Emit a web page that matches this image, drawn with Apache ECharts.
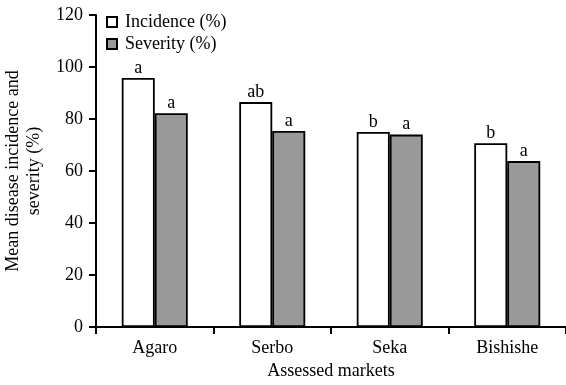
<!DOCTYPE html>
<html>
<head>
<meta charset="utf-8">
<script src="https://cdn.jsdelivr.net/npm/echarts@6/dist/echarts.min.js"></script>
<style>
html,body{margin:0;padding:0;background:#fff;}
#chart{width:566px;height:385px;}
</style>
</head>
<body>
<div id="chart"></div>
<script>
// Markets and mean disease values (%)
const markets = ['Agaro', 'Serbo', 'Seka', 'Bishishe'];
const incidence = [95.8, 86.5, 75.0, 70.7];
const severity = [82.2, 75.4, 74.0, 63.8];
// Mean separation letters shown above each bar
const incidenceLetters = ['a', 'ab', 'b', 'b'];
const severityLetters = ['a', 'a', 'a', 'a'];
const yTicks = [0, 20, 40, 60, 80, 100, 120];

const FONT = '"Liberation Serif", "Times New Roman", serif';
const chart = echarts.init(document.getElementById('chart'), null, {renderer: 'canvas'});

function letterLabel(letters) {
  return {
    show: true,
    position: 'top',
    distance: 1,
    fontFamily: FONT,
    fontSize: 18,
    color: '#000',
    formatter: p => letters[p.dataIndex]
  };
}

chart.setOption({
  animation: false,
  backgroundColor: '#fff',
  textStyle: {fontFamily: FONT, color: '#000'},
  grid: {left: 96, right: 0, top: 15, bottom: 58, containLabel: false, outerBoundsMode: 'none'},
  legend: {
    orient: 'vertical',
    left: 101,
    top: 8,
    itemWidth: 10,
    itemHeight: 10,
    itemGap: 4,
    icon: 'rect',
    textStyle: {fontFamily: FONT, fontSize: 18, color: '#000', padding: [0, 0, 0, 3]},
    data: ['Incidence (%)', 'Severity (%)']
  },
  xAxis: {
    type: 'category',
    data: markets,
    name: 'Assessed markets',
    nameLocation: 'middle',
    nameGap: 34,
    nameTextStyle: {fontFamily: FONT, fontSize: 18, color: '#000'},
    axisLine: {lineStyle: {color: '#000', width: 2}},
    axisTick: {show: true, inside: false, length: 7, alignWithLabel: false, lineStyle: {color: '#000', width: 2}},
    axisLabel: {fontFamily: FONT, fontSize: 18, color: '#000', margin: 12}
  },
  yAxis: {
    type: 'value',
    min: yTicks[0],
    max: yTicks[yTicks.length - 1],
    interval: 20,
    name: 'Mean disease incidence and\nseverity (%)',
    nameLocation: 'middle',
    nameGap: 44,
    nameTextStyle: {fontFamily: FONT, fontSize: 18, color: '#000', lineHeight: 21},
    axisLine: {show: true, lineStyle: {color: '#000', width: 2}},
    axisTick: {show: true, inside: false, length: 7, lineStyle: {color: '#000', width: 2}},
    axisLabel: {fontFamily: FONT, fontSize: 18, color: '#000', margin: 13},
    splitLine: {show: false}
  },
  series: [
    {
      name: 'Incidence (%)',
      type: 'bar',
      data: incidence,
      barWidth: 33,
      barGap: '0%',
      itemStyle: {color: '#ffffff', borderColor: '#000', borderWidth: 1.8},
      label: letterLabel(incidenceLetters)
    },
    {
      name: 'Severity (%)',
      type: 'bar',
      data: severity,
      barWidth: 33,
      barGap: '0%',
      itemStyle: {color: '#999999', borderColor: '#000', borderWidth: 1.8},
      label: letterLabel(severityLetters)
    }
  ]
});
</script>
</body>
</html>
